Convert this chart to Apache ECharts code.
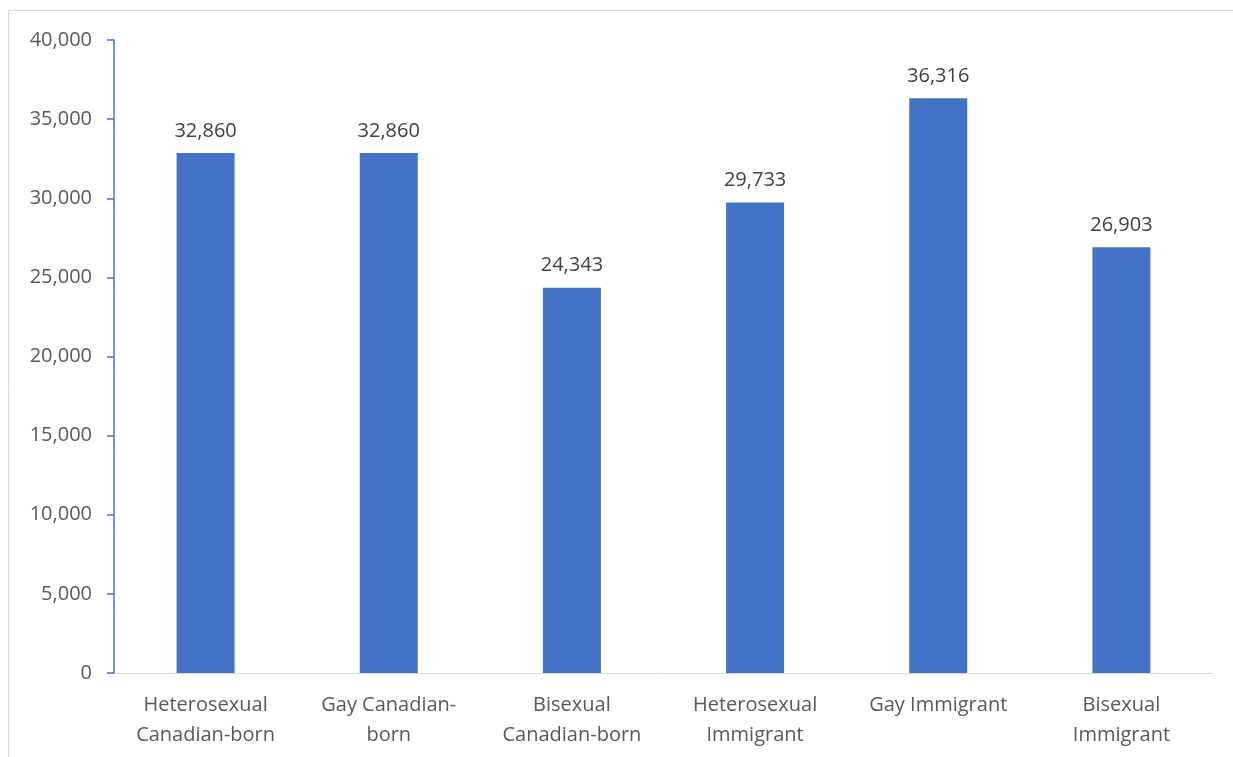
<!DOCTYPE html>
<html lang="en">

<head>
    <meta charset="UTF-8">
    <title>Chart</title>
    <style>
        html, body { margin: 0; padding: 0; background: #fff; }
        #bar { width: 1233px; height: 757px; }
    </style>
    <script src="https://cdn.jsdelivr.net/npm/echarts@6/dist/echarts.min.js"></script>
</head>

<body>
    <div id="bar"></div>
    <script>
        var categories = [
            'Heterosexual\nCanadian-born',
            'Gay Canadian-\nborn',
            'Bisexual\nCanadian-born',
            'Heterosexual\nImmigrant',
            'Gay Immigrant',
            'Bisexual\nImmigrant'
        ];
        var values = [32860, 32860, 24343, 29733, 36316, 26903];
        var yTicks = { min: 0, max: 40000, interval: 5000 };

        var font = '"Open Sans", "Noto Sans", sans-serif';

        echarts.init(document.getElementById('bar')).setOption({
            animation: false,
            graphic: [{
                type: 'rect',
                shape: { x: 8.5, y: 10.5, width: 1400, height: 900 },
                style: { fill: 'none', stroke: '#d9d9d9', lineWidth: 1 },
                silent: true
            }],
            grid: {
                left: 114,
                right: 20,
                top: 40,
                bottom: 84
            },
            xAxis: {
                type: 'category',
                data: categories,
                axisTick: { show: false },
                axisLine: {
                    show: true,
                    lineStyle: { color: '#d9d9d9', width: 1 }
                },
                axisLabel: {
                    color: '#595959',
                    fontSize: 20,
                    fontFamily: font,
                    lineHeight: 30,
                    margin: 17,
                    interval: 0
                }
            },
            yAxis: {
                type: 'value',
                min: yTicks.min,
                max: yTicks.max,
                interval: yTicks.interval,
                axisLine: {
                    show: true,
                    lineStyle: { color: '#4472C4', width: 1.5 }
                },
                axisTick: {
                    show: true,
                    length: 7,
                    lineStyle: { color: '#4472C4', width: 1.5 }
                },
                splitLine: { show: false },
                axisLabel: {
                    color: '#595959',
                    fontSize: 20,
                    fontFamily: font,
                    margin: 22,
                    formatter: function (v) { return v.toLocaleString('en-US'); }
                }
            },
            series: [{
                type: 'bar',
                data: values,
                barWidth: 58,
                itemStyle: { color: '#4472C4' },
                label: {
                    show: true,
                    position: 'top',
                    distance: 12,
                    color: '#404040',
                    fontSize: 20,
                    fontFamily: font,
                    formatter: function (p) { return p.value.toLocaleString('en-US'); }
                }
            }]
        });
    </script>
</body>

</html>
